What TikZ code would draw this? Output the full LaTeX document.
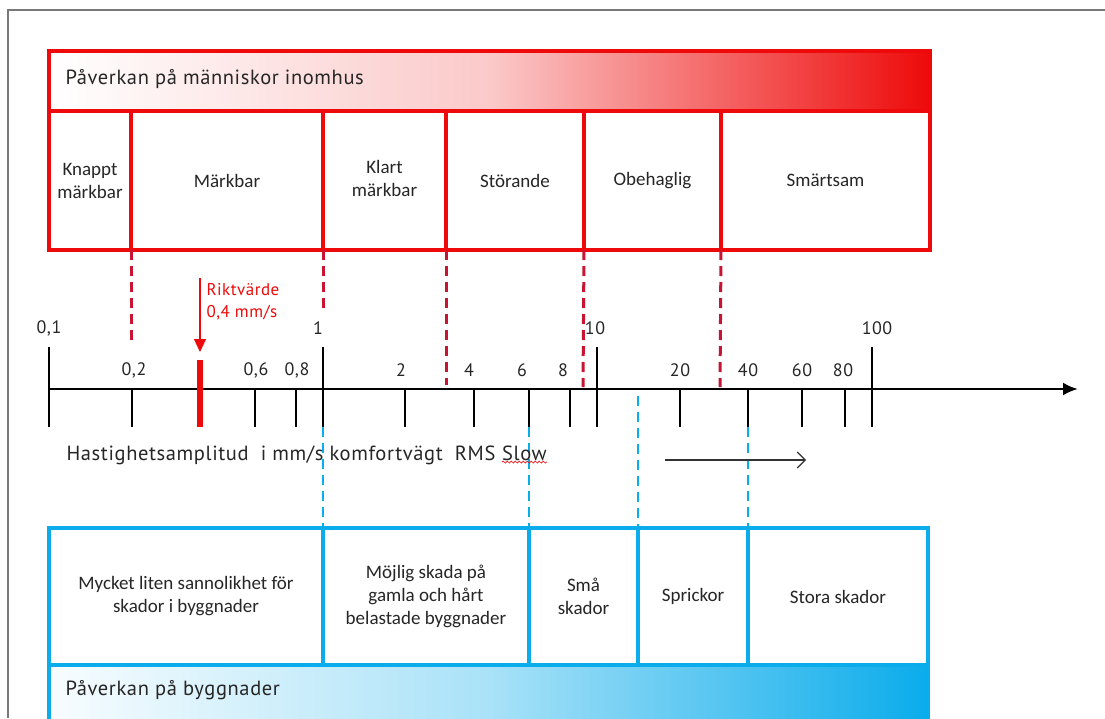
\documentclass[tikz,border=0pt]{standalone}
\usepackage{fontspec}
\setmainfont{Carlito}
\newfontfamily\dinfont{PT Sans}[LetterSpace=3]
\usetikzlibrary{arrows.meta,decorations.pathmorphing}
\definecolor{myred}{RGB}{238,10,10}
\definecolor{dashred}{RGB}{200,20,50}
\definecolor{myblue}{RGB}{10,172,235}
\definecolor{frame}{RGB}{120,120,120}
\tikzset{
  cellbase/.style={rectangle, inner sep=0pt, outer sep=0pt, line width=4.5pt, align=center, font=\fontsize{19}{23}\selectfont, text=black!85},
  redcell/.style={cellbase, draw=myred},
  bluecell/.style={cellbase, draw=myblue},
  celltext/.style={inner sep=0pt, align=center, font=\fontsize{19}{23}\selectfont, text=black!85},
  redhead/.style={draw=myred, line width=4.5pt, rectangle, inner sep=0pt, outer sep=0pt, left color=white, right color=myred, middle color=myred!22},
  bluehead/.style={draw=myblue, line width=4.5pt, rectangle, inner sep=0pt, outer sep=0pt, left color=myblue!3, right color=myblue, middle color=myblue!35},
  headtext/.style={font=\dinfont\fontsize{20.5}{24}\selectfont, anchor=west, text=black!85},
  axlabel/.style={font=\dinfont\fontsize{18}{21}\selectfont, text=black!85},
  tick/.style={line width=2.5pt, black},
  reddash/.style={dashred, line width=3pt, dash pattern=on 10pt off 6pt},
  bluedash/.style={myblue, line width=2.8pt, dash pattern=on 10pt off 6pt},
}
\begin{document}
\begin{tikzpicture}[x=1pt,y=-1pt]
\useasboundingbox (0,0) rectangle (1105,718);
\fill[white] (0,0) rectangle (1105,718);
% frame
\draw[frame, line width=1.3pt] (8,718) -- (8,10) -- (1105,10);

% red header
\node[redhead, minimum width=881, minimum height=60] (rh) at (489.5,81) {};
\node[headtext] (rht) at (62,79) {Påverkan på människor inomhus};
% red cells
\node[redcell, minimum width=82, minimum height=139] (r1) at (90,180.5) {Knappt\\märkbar};
\node[redcell, minimum width=192, minimum height=139] (r2) at (227,180.5) {Märkbar};
\node[redcell, minimum width=123, minimum height=139] (r3) at (384.5,180.5) {};
\node[celltext] (r3t) at (384.5,178) {Klart\\märkbar};
\node[redcell, minimum width=138, minimum height=139] (r4) at (515,180.5) {Störande};
\node[redcell, minimum width=137, minimum height=139] (r5) at (652.5,180.5) {Obehaglig};
\node[redcell, minimum width=209, minimum height=139] (r6) at (825.5,180.5) {Smärtsam};

% blue cells
\node[bluecell, minimum width=274, minimum height=137] (b1) at (186,596.5) {Mycket liten sannolikhet för\\skador i byggnader};
\node[bluecell, minimum width=206, minimum height=137] (b2) at (426,596.5) {Möjlig skada på\\gamla och hårt\\belastade byggnader};
\node[bluecell, minimum width=109, minimum height=137] (b3) at (583.5,596.5) {Små\\skador};
\node[bluecell, minimum width=110, minimum height=137] (b4) at (693,596.5) {Sprickor};
\node[bluecell, minimum width=180, minimum height=137] (b5) at (838,596.5) {Stora skador};
% blue header
\node[bluehead, minimum width=879, minimum height=80, anchor=north west] (bh) at (49,665) {};
\node[headtext] (bht) at (62,690) {Påverkan på byggnader};

% axis
\coordinate (axL) at (49,389);
\coordinate (axR) at (1078,389);
\draw[line width=2.6pt, -{Latex[length=15pt,width=13pt]}] (axL) -- (axR);
% major ticks
\foreach \x in {49, 323, 597, 872}{
  \draw[tick] (\x,347) -- (\x,427);
}
% minor ticks
\foreach \x in {132, 255, 296, 405, 474, 529, 570, 680, 748, 802, 845}{
  \draw[tick] (\x,389) -- (\x,427);
}
\coordinate (t1b) at (323,427);
\coordinate (t6b) at (529,427);
\coordinate (t40b) at (748,427);
% labels
\node[axlabel] (l01) at (49,328) {0,1};
\node[axlabel] (l1) at (318,328) {1};
\node[axlabel] (l10) at (595,328) {10};
\node[axlabel] (l100) at (877,328) {100};
\node[axlabel] (lma) at (134,370) {0,2};
\node[axlabel] (lmb) at (256,370) {0,6};
\node[axlabel] (lmc) at (297,370) {0,8};
\node[axlabel] (lmd) at (401,370) {2};
\node[axlabel] (lme) at (469,370) {4};
\node[axlabel] (lmf) at (522,370) {6};
\node[axlabel] (lmg) at (563,370) {8};
\node[axlabel] (lmh) at (680,370) {20};
\node[axlabel] (lmi) at (748,370) {40};
\node[axlabel] (lmj) at (802,370) {60};
\node[axlabel] (lmk) at (843,370) {80};

% Riktvärde
\coordinate (rkA) at (200,278);
\coordinate (rkB) at (200,352);
\draw[myred, line width=1.2pt, -{Triangle[length=13pt,width=12pt]}] (rkA) -- (rkB);
\coordinate (rtA) at (200,360);
\coordinate (rtB) at (200,427);
\draw[myred, line width=6pt] (rtA) -- (rtB);
\node[font=\dinfont\fontsize{17}{20}\selectfont, text=myred, anchor=west] (rk1) at (203,290) {Riktvärde};
\node[font=\dinfont\fontsize{17}{20}\selectfont, text=myred, anchor=west] (rk2) at (203,313) {0,4 mm/s};

% red dashed
\coordinate (d1) at (131,342);
\coordinate (d2) at (323,310);
\coordinate (d3) at (446,385);
\coordinate (d4) at (583,387);
\coordinate (d5) at (720,387);
\draw[reddash] (r1.south east) -- (d1);
\draw[reddash] (r2.south east) -- (d2);
\draw[reddash] (r3.south east) -- (d3);
\draw[reddash] (r4.south east) -- (d4);
\draw[reddash] (r5.south east) -- (d5);

% blue dashed
\coordinate (e3) at (638,396);
\draw[bluedash] (t1b) -- (b1.north east);
\draw[bluedash] (t6b) -- (b2.north east);
\draw[bluedash] (e3) -- (b3.north east);
\draw[bluedash] (t40b) -- (b4.north east);

% axis title
\node[font=\dinfont\fontsize{20.5}{24}\selectfont, anchor=base west, text=black!85] (ttl) at (63,460) {Hastighetsamplitud\ \ i mm/s komfortvägt\ \ RMS};
\node[font=\dinfont\fontsize{20.5}{24}\selectfont, anchor=base west, text=black!85, inner xsep=0pt] (slow) at (502,460) {Slow};
\draw[myred, line width=0.7pt, decorate, decoration={snake, amplitude=1pt, segment length=4pt}] ([yshift=-2pt]slow.base west) -- ([yshift=-2pt]slow.base east);

% small arrow
\coordinate (saA) at (665,460);
\coordinate (saB) at (806,460);
\draw[black!80, line width=1.1pt, -{Straight Barb[length=8pt,width=16pt]}] (saA) -- (saB);
\end{tikzpicture}
\end{document}
